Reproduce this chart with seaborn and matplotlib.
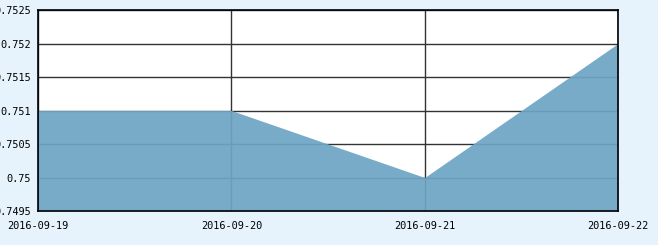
import matplotlib
matplotlib.use("Agg")
import matplotlib.pyplot as plt
import seaborn as sns
import pandas as pd

dates = ["2016-09-19", "2016-09-20", "2016-09-21", "2016-09-22"]
values = [0.751, 0.751, 0.750, 0.752]
yticks = [0.7495, 0.75, 0.7505, 0.751, 0.7515, 0.752, 0.7525]

df = pd.DataFrame({"pos": range(len(dates)), "value": values})

sns.set_theme(style="white")
plt.rcParams["font.family"] = ["DejaVu Sans Mono", "DejaVu Sans"]

bg = "#e7f3fc"
fig = plt.figure(figsize=(6.58, 2.45), dpi=100, facecolor=bg)
ax = fig.add_axes([38/658, 34/245, 580/658, 201/245])
ax.set_facecolor("white")

sns.lineplot(data=df, x="pos", y="value", ax=ax, color="#6ea5c3", linewidth=0, zorder=3)
ax.fill_between(df["pos"], df["value"], 0.7495, color="#6ea5c3", alpha=0.93, linewidth=0, zorder=3)

ax.set_xlim(0, len(dates) - 1)
ax.set_ylim(yticks[0], yticks[-1])
ax.set_xticks(range(len(dates)))
ax.set_xticklabels(dates)
ax.set_yticks(yticks)
ax.set_yticklabels([f"{v:g}" for v in yticks])
ax.set_xlabel("")
ax.set_ylabel("")

ax.grid(True, color="#333333", linewidth=1, zorder=1)
ax.set_axisbelow(True)
for s in ax.spines.values():
    s.set_color("black")
    s.set_linewidth(1.2)
    s.set_zorder(5)

ax.tick_params(axis="both", which="major", direction="out", color="black",
               labelcolor="black", labelsize=7.4, width=1)
ax.tick_params(axis="y", length=4, pad=1)
ax.tick_params(axis="x", length=3, pad=4.5)

fig.savefig("out.png", dpi=100, facecolor=bg)
